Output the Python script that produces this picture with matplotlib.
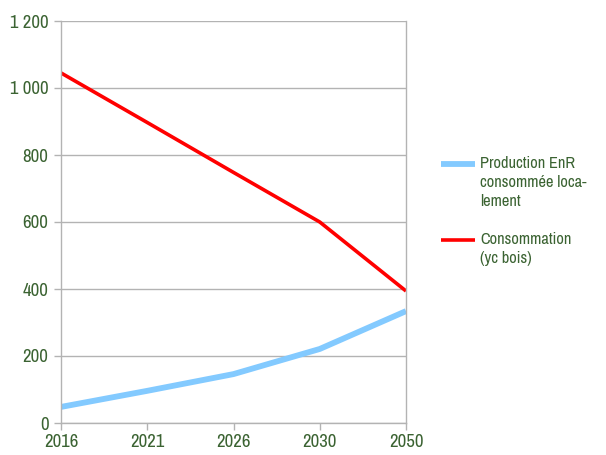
import matplotlib.pyplot as plt
from matplotlib.lines import Line2D

# Données
annees = ['2016', '2021', '2026', '2030', '2050']
production_enr = [48, 96, 146, 221, 334]
consommation = [1045, 897, 748, 600, 394]
graduations = [0, 200, 400, 600, 800, 1000, 1200]
etiquettes_y = ['0', '200', '400', '600', '800', '1 000', '1 200']
series = [
    ('Production EnR\nconsommée loca-\nlement', production_enr, '#83caff', 4.2),
    ('Consommation\n(yc bois)', consommation, '#ff0000', 2.6),
]

plt.rcParams['font.family'] = ['Archivo Narrow', 'DejaVu Sans']

vert = '#3b6332'
gris = '#b3b3b3'
W, H = 606, 455

fig = plt.figure(figsize=(W / 100, H / 100), dpi=100)
ax = fig.add_axes([61 / W, 1 - 423 / H, 345 / W, 402 / H])

x = list(range(len(annees)))
for nom, valeurs, couleur, epaisseur in series:
    ax.plot(x, valeurs, color=couleur, linewidth=epaisseur, solid_capstyle='butt')

ax.set_xlim(0, len(annees) - 1)
ax.set_ylim(0, 1200)
ax.set_xticks(x)
ax.set_xticklabels(annees)
ax.set_yticks(graduations)
ax.set_yticklabels(etiquettes_y)

ax.grid(axis='y', color=gris, linewidth=1)
ax.set_axisbelow(True)
ax.spines['top'].set_visible(False)
for cote in ['left', 'right', 'bottom']:
    ax.spines[cote].set_color(gris)
    ax.spines[cote].set_linewidth(1)

ax.tick_params(axis='both', colors=gris, labelcolor=vert, labelsize=13.5,
               length=5, width=1, direction='out')
ax.tick_params(axis='x', pad=3)
ax.tick_params(axis='y', pad=4)

# Légende à droite : le trait est aligné sur la première ligne du libellé
positions = [164, 240]
for (nom, valeurs, couleur, epaisseur), y in zip(series, positions):
    fig.add_artist(Line2D([441 / W, 475 / W], [1 - y / H, 1 - y / H],
                          color=couleur, linewidth=epaisseur, solid_capstyle='butt'))
    fig.text(480 / W, 1 - (y - 8) / H, nom, color=vert, fontsize=11.8,
             va='top', ha='left', linespacing=1.35)

fig.savefig('out.png', dpi=100)
